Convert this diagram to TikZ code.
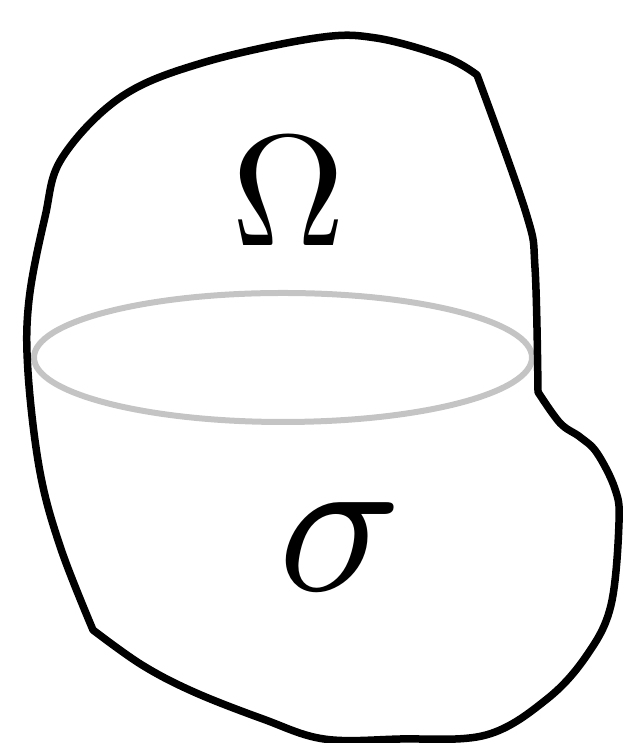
\documentclass[tikz,border=0pt]{standalone}
\begin{document}
\begin{tikzpicture}[line join=round,
    outline/.style={line width=0.075cm, black},
    rim/.style={line width=0.06cm, black!23},
    lbl/.style={inner sep=0pt, transform shape}]
  \useasboundingbox (0,0) rectangle (6.35,7.43);
  % cross section
  \draw[rim] (2.83,3.855) ellipse (2.49 and 0.645);
  % boundary of the body
  \draw[outline] plot[smooth, tension=0.6] coordinates {(0.93,1.13) (0.61,1.94) (0.40,2.71) (0.28,3.71) (0.29,4.43) (0.45,5.26) (0.62,5.85) (1.21,6.46) (2.02,6.80) (3.16,7.05) (3.76,7.05) (4.45,6.86) (4.77,6.68)}
    -- plot[smooth, tension=0.6] coordinates {(4.77,6.68) (5.26,5.30) (5.35,4.75) (5.38,3.51)}
    -- plot[smooth, tension=0.6] coordinates {(5.38,3.51) (5.60,3.20) (5.80,3.06) (5.97,2.90) (6.15,2.54) (6.19,2.21) (6.11,1.38) (5.87,0.88) (5.47,0.44) (4.86,0.08) (4.00,0.04) (3.24,0.04) (2.63,0.24) (1.94,0.51) (1.42,0.78) (0.93,1.13)}
    -- cycle;
  \node[lbl, scale=4.5] (omega) at (2.885,5.52) {$\Omega$};
  \node[lbl, scale=5.8] (sigma) at (3.40,1.965) {$\sigma$};
\end{tikzpicture}
\end{document}
